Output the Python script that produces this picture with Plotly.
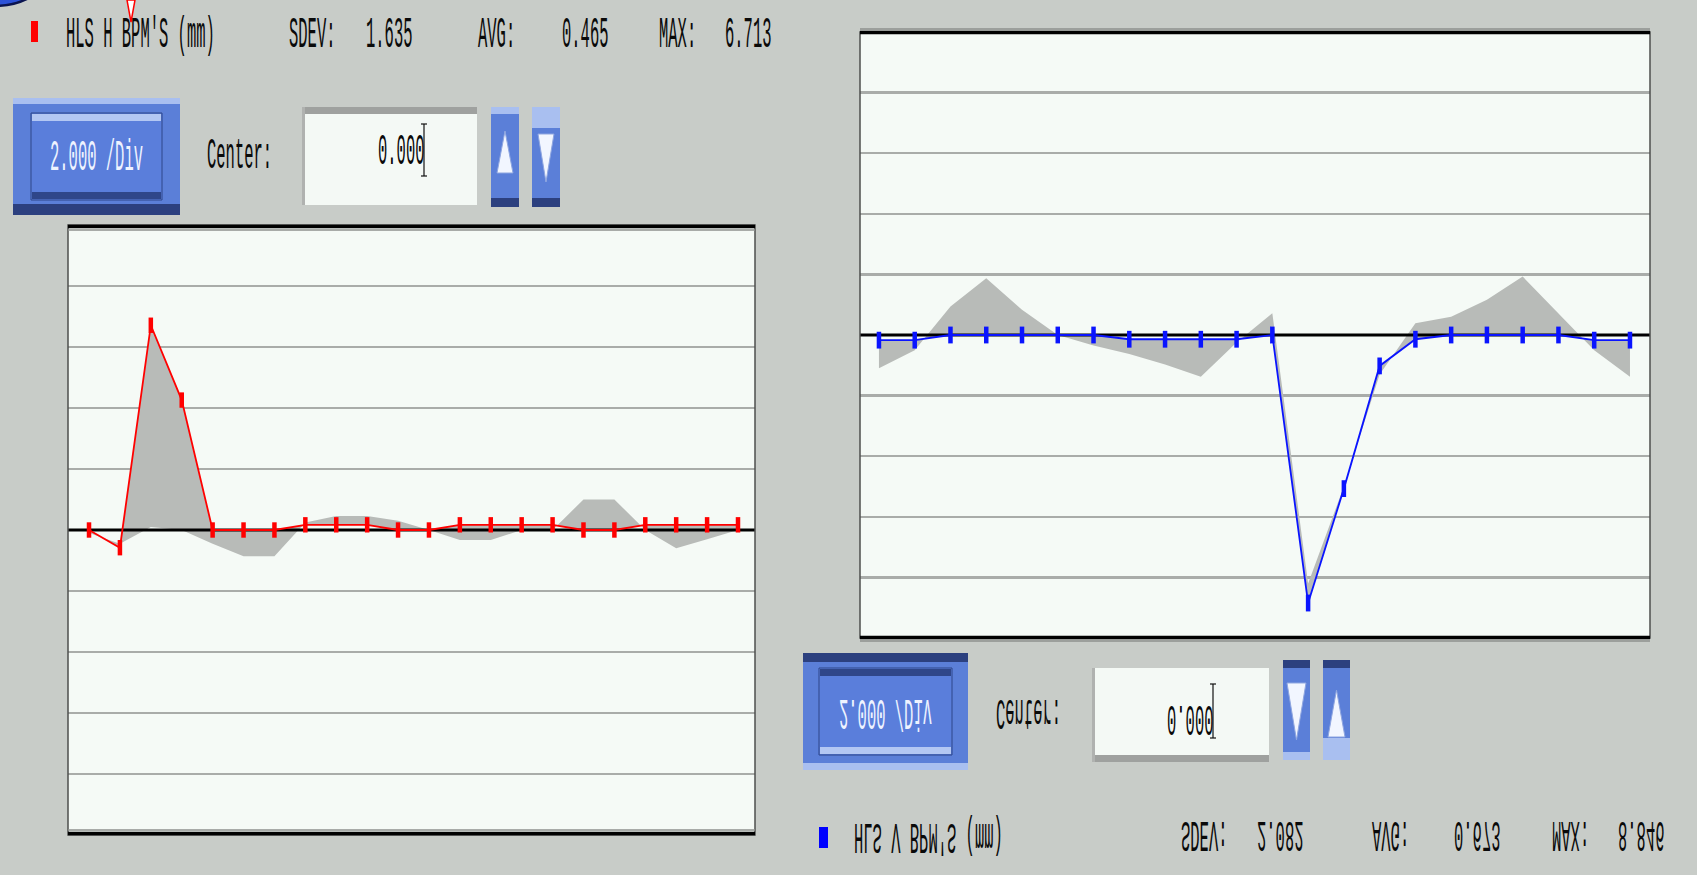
import json
import plotly.graph_objects as go

W, H = 1697, 875

# ---------------- data ----------------
bpm = [1, 2, 3, 4, 5, 6, 7, 8, 9, 10, 11, 12, 13, 14, 15, 16, 17, 18, 19, 20, 21, 22]

# horizontal BPM readings (mm) and reference profile (grey band = difference)
h_bpm_mm = [0.0, -0.58, 6.713, 4.26, 0.0, 0.0, 0.0, 0.17, 0.17, 0.17, 0.0, 0.0,
            0.17, 0.17, 0.17, 0.17, 0.0, 0.0, 0.17, 0.17, 0.17, 0.17]
h_ref_mm = [-0.1, -0.45, 0.1, 0.0, -0.45, -0.86, -0.86, 0.25, 0.46, 0.46, 0.3, 0.0,
            -0.33, -0.33, 0.0, 0.0, 1.0, 1.0, 0.0, -0.6, -0.3, 0.0]

# vertical BPM readings (mm) and reference profile (panel shown upside down)
v_bpm_mm = [0.17, 0.17, 0.0, 0.0, 0.0, 0.0, 0.0, 0.14, 0.14, 0.14, 0.14, 0.0,
            8.846, 5.07, 1.02, 0.14, 0.0, 0.0, 0.0, 0.0, 0.17, 0.17]
v_ref_mm = [1.1, 0.5, -0.94, -1.87, -0.83, 0.0, 0.35, 0.63, 0.97, 1.38, 0.25, -0.72,
            8.2, 5.0, 1.3, -0.39, -0.6, -1.16, -1.93, -0.72, 0.5, 1.38]

grid_levels = [-10, -8, -6, -4, -2, 2, 4, 6, 8, 10]

h_title = "HLS H BPM'S (mm)"
v_title = "HLS V BPM'S (mm)"
stat_labels = ["SDEV:", "AVG:", "MAX:"]
h_stat_values = ["1.635", "0.465", "6.713"]
v_stat_values = ["2.082", "0.673", "8.846"]
scale_label = "2.000 /Div"
center_label = "Center:"
center_value = "0.000"

# ---------------- helpers ----------------
def fx(x):
    return x / W

def fy(y):
    return 1 - y / H

shapes = []

def rect(x0, y0, x1, y1, fill, line=None, lw=0, layer="above"):
    shapes.append(dict(type="rect", xref="paper", yref="paper",
                       x0=fx(x0), x1=fx(x1), y0=fy(y1), y1=fy(y0),
                       fillcolor=fill, layer=layer,
                       line=dict(color=line or fill, width=lw)))

def seg(x0, y0, x1, y1, color, width, layer="above"):
    shapes.append(dict(type="line", xref="paper", yref="paper",
                       x0=fx(x0), x1=fx(x1), y0=fy(y0), y1=fy(y1), layer=layer,
                       line=dict(color=color, width=width)))

def poly(pts, fill, line=None, lw=0):
    d = "M " + " L ".join(f"{fx(a):.6f},{fy(b):.6f}" for a, b in pts) + " Z"
    shapes.append(dict(type="path", xref="paper", yref="paper", path=d,
                       fillcolor=fill, line=dict(color=line or fill, width=lw)))

BLUE = "#5b7fd8"
LIGHT = "#a9bff0"
DARK = "#2c407f"
FACE = "#f4f9f5"
GREY = "#b8bbb8"

# ---------------- figure ----------------
fig = go.Figure()

xr1 = [0.32, 22.55]
xr2 = [0.47, 22.56]

def add_panel(ref, cur, xr, color, msize, xa, ya, name):
    # reference profile (invisible boundary)
    fig.add_trace(go.Scatter(x=bpm, y=ref, mode="lines", line=dict(width=0, color=GREY),
                             xaxis=xa, yaxis=ya, hoverinfo="skip", showlegend=False))
    # grey band between reference and current reading
    fig.add_trace(go.Scatter(x=bpm, y=cur, mode="lines", fill="tonexty", fillcolor=GREY,
                             line=dict(width=0, color=GREY),
                             xaxis=xa, yaxis=ya, hoverinfo="skip", showlegend=False))
    # zero (center) line
    fig.add_trace(go.Scatter(x=xr, y=[0, 0], mode="lines", line=dict(color="#000000", width=3),
                             xaxis=xa, yaxis=ya, hoverinfo="skip", showlegend=False))
    # current reading
    fig.add_trace(go.Scatter(x=bpm, y=cur, mode="lines+markers",
                             line=dict(color=color, width=1.8),
                             marker=dict(symbol="line-ns", size=msize, color=color,
                                         line=dict(color=color, width=4.5)),
                             xaxis=xa, yaxis=ya, showlegend=False, name=name))

add_panel(h_ref_mm, h_bpm_mm, xr1, "#ff0000", 11, "x", "y", h_title)
add_panel(v_ref_mm, v_bpm_mm, xr2, "#0a14ff", 12, "x2", "y2", v_title)

yax_common = dict(tickvals=grid_levels, showticklabels=False, ticks="",
                  showgrid=True, gridcolor="#a9aca9", gridwidth=2.5,
                  zeroline=False, showline=False, fixedrange=True)
xax_common = dict(showgrid=False, zeroline=False, showticklabels=False, ticks="",
                  showline=False, fixedrange=True)

fig.update_layout(
    width=W, height=H,
    margin=dict(l=0, r=0, t=0, b=0),
    paper_bgcolor="#c8ccc8",
    plot_bgcolor="#f5faf6",
    xaxis=dict(domain=[fx(68), fx(755)], range=xr1, anchor="y", **xax_common),
    yaxis=dict(domain=[fy(835), fy(225)], range=[-10, 10], anchor="x", **yax_common),
    xaxis2=dict(domain=[fx(860), fx(1650)], range=xr2, anchor="y2", **xax_common),
    yaxis2=dict(domain=[fy(638), fy(32)], range=[10, -10], anchor="x2", **yax_common),
    showlegend=False,
)

# ---- panel frames ----
rect(68, 225, 755, 835, "rgba(0,0,0,0)", "#4d4f4d", 1.5)
seg(68, 226.5, 755, 226.5, "#000000", 3.5)
seg(68, 230, 755, 230, "#8e908e", 1.5)
seg(68, 833.5, 755, 833.5, "#000000", 3.5)
seg(68, 830, 755, 830, "#8e908e", 1.5)

rect(860, 32, 1650, 638, "rgba(0,0,0,0)", "#4d4f4d", 1.5)
seg(860, 32.5, 1650, 32.5, "#000000", 3.5)
seg(860, 29, 1650, 29, "#8e908e", 1.5)
seg(860, 637.5, 1650, 637.5, "#000000", 3.5)
seg(860, 641, 1650, 641, "#8e908e", 1.5)

# ---- top-left decorations ----
shapes.append(dict(type="circle", xref="paper", yref="paper",
                   x0=fx(-75), x1=fx(65), y0=fy(6), y1=fy(-126),
                   fillcolor="#2d52d8", line=dict(color="#0b1450", width=2.5)))
poly([(127, 0), (135, 0), (131, 22)], "#ffffff", "#ff0000", 1.5)

# legend swatches
rect(31, 21, 38, 42, "#ff0000")
rect(819, 827, 828, 848, "#0000ff")

# ---- left controls ----
rect(13, 98, 180, 215, BLUE)
rect(13, 98, 180, 104, LIGHT)
rect(13, 204, 180, 215, DARK)
rect(31, 113, 162, 200, "#5a7edb", "#2f4689", 1)
rect(32, 114, 161, 121, "#b3c7f3")
rect(32, 192, 161, 199, "#2f4689")

rect(302, 107, 477, 205, FACE)
rect(302, 107, 477, 114, "#9fa19f")
rect(302, 107, 305, 205, "#b0b2b0")
seg(424, 124, 424, 176, "#111111", 1.2)
seg(421, 124, 427, 124, "#111111", 1.2)
seg(421, 176, 427, 176, "#111111", 1.2)

rect(491, 107, 519, 207, BLUE)
rect(491, 107, 519, 114, LIGHT)
rect(491, 198, 519, 207, DARK)
poly([(497, 173), (513, 173), (505, 131)], "#f2f6ff", "#8fa6e0", 1)

rect(532, 107, 560, 207, BLUE)
rect(532, 107, 560, 128, LIGHT)
rect(532, 198, 560, 207, DARK)
poly([(538, 134), (554, 134), (546, 182)], "#f2f6ff", "#8fa6e0", 1)

# ---- right controls (upside down) ----
rect(803, 653, 968, 770, BLUE)
rect(803, 653, 968, 662, DARK)
rect(803, 763, 968, 770, LIGHT)
rect(819, 668, 952, 755, "#5a7edb", "#2f4689", 1)
rect(820, 669, 951, 676, "#2f4689")
rect(820, 747, 951, 754, "#b3c7f3")

rect(1092, 668, 1269, 762, FACE)
rect(1092, 755, 1269, 762, "#9fa19f")
rect(1092, 668, 1095, 762, "#b0b2b0")
seg(1213, 684, 1213, 738, "#111111", 1.2)
seg(1210, 684, 1216, 684, "#111111", 1.2)
seg(1210, 738, 1216, 738, "#111111", 1.2)

rect(1283, 660, 1310, 760, BLUE)
rect(1283, 660, 1310, 668, DARK)
rect(1283, 752, 1310, 760, LIGHT)
poly([(1287, 683), (1306, 683), (1296.5, 740)], "#f2f6ff", "#8fa6e0", 1)

rect(1323, 660, 1350, 760, BLUE)
rect(1323, 660, 1350, 668, DARK)
rect(1323, 738, 1350, 760, LIGHT)
poly([(1328, 737), (1345, 737), (1336.5, 690)], "#f2f6ff", "#8fa6e0", 1)

# ---------------- texts ----------------
FONT = "Liberation Mono, DejaVu Sans Mono, monospace"
annotations = []
flip_idx = []

def txt(s, x, y, anchor="left", color="#0a0a0a", size=15.5, flip=False):
    if flip:
        flip_idx.append(len(annotations))
    annotations.append(dict(text=s, x=fx(x), y=fy(y), xref="paper", yref="paper",
                            xanchor=anchor, yanchor="middle", showarrow=False,
                            font=dict(family=FONT, size=size, color=color)))

# left (upright)
txt(h_title, 64, 35)
for lab, lx, val, vx in zip(stat_labels, [287, 476, 657], h_stat_values, [364, 560, 723]):
    txt(lab, lx, 35)
    txt(val, vx, 35)
txt(scale_label, 96.5, 158, anchor="center", color="#eef3ff")
txt(center_label, 205, 156)
txt(center_value, 427, 152, anchor="right")

# right (upside down)
txt(v_title, 852, 836, flip=True)
for lab, lx, val, vx in zip(stat_labels, [1179, 1370, 1550], v_stat_values, [1255, 1452, 1616]):
    txt(lab, lx, 834, flip=True)
    txt(val, vx, 834, flip=True)
txt(scale_label, 885.5, 712, anchor="center", color="#eef3ff", flip=True)
txt(center_label, 994, 712, flip=True)
txt(center_value, 1216, 718, anchor="right", flip=True)

fig.update_layout(shapes=shapes, annotations=annotations)

SY = 2.85
post = """
document.body.style.margin = '0px';
document.body.style.overflow = 'hidden';
var gd = document.getElementById('{plot_id}');
var FLIP = __FLIP__;
var SY = __SY__;
function stretchTexts() {
  var gs = gd.querySelectorAll('g.annotation');
  for (var k = 0; k < gs.length; k++) {
    var g = gs[k];
    var i = parseInt(g.getAttribute('data-index'));
    var t = g.querySelector('text.annotation-text');
    if (!t) continue;
    var s = FLIP.indexOf(i) >= 0 ? -SY : SY;
    t.style.transformBox = 'fill-box';
    t.style.transformOrigin = '50% 50%';
    t.style.transform = 'scale(1,' + s + ')';
  }
}
stretchTexts();
gd.on('plotly_afterplot', stretchTexts);
""".replace("__FLIP__", json.dumps(flip_idx)).replace("__SY__", str(SY))

fig.write_html("out.html", config={"displayModeBar": False, "staticPlot": True},
               post_script=post)
